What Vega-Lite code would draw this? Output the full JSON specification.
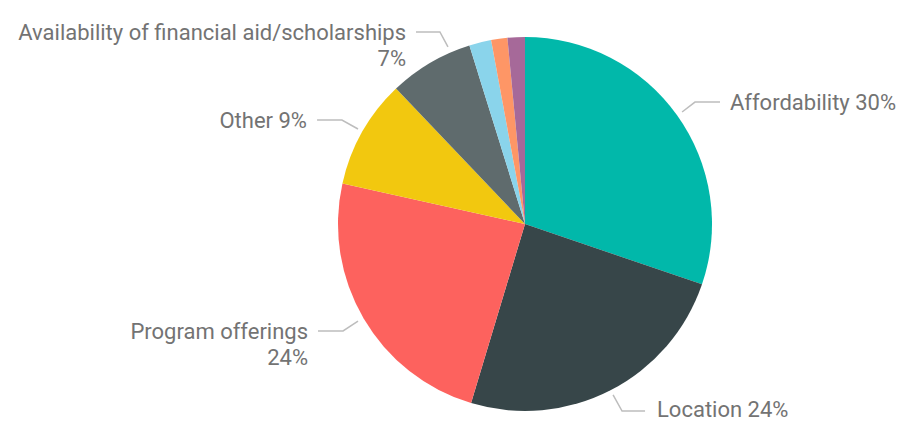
{
  "$schema": "https://vega.github.io/schema/vega-lite/v6.json",
  "width": 374,
  "height": 374,
  "autosize": "none",
  "padding": {"left": 338, "top": 37, "right": 196, "bottom": 15},
  "background": "white",
  "config": {"view": {"stroke": null}},
  "datasets": {
    "slices": [
      {"idx": 1, "category": "Affordability", "value": 30.2},
      {"idx": 2, "category": "Location", "value": 24.4},
      {"idx": 3, "category": "Program offerings", "value": 23.8},
      {"idx": 4, "category": "Other", "value": 9.4},
      {"idx": 5, "category": "Availability of financial aid/scholarships", "value": 7.3},
      {"idx": 6, "category": "Category 6", "value": 1.9},
      {"idx": 7, "category": "Category 7", "value": 1.4},
      {"idx": 8, "category": "Category 8", "value": 1.5}
    ],
    "leaders": [
      {"seg": "Affordability", "i": 1, "x": 0.840, "y": 0.599},
      {"seg": "Affordability", "i": 2, "x": 0.909, "y": 0.652},
      {"seg": "Affordability", "i": 3, "x": 1.043, "y": 0.652},
      {"seg": "Location", "i": 1, "x": 0.471, "y": -0.914},
      {"seg": "Location", "i": 2, "x": 0.519, "y": -1.0},
      {"seg": "Location", "i": 3, "x": 0.642, "y": -1.0},
      {"seg": "Program offerings", "i": 1, "x": -0.893, "y": -0.519},
      {"seg": "Program offerings", "i": 2, "x": -0.973, "y": -0.572},
      {"seg": "Program offerings", "i": 3, "x": -1.107, "y": -0.572},
      {"seg": "Other", "i": 1, "x": -0.893, "y": 0.508},
      {"seg": "Other", "i": 2, "x": -0.979, "y": 0.556},
      {"seg": "Other", "i": 3, "x": -1.112, "y": 0.556},
      {"seg": "Availability", "i": 1, "x": -0.412, "y": 0.947},
      {"seg": "Availability", "i": 2, "x": -0.455, "y": 1.027},
      {"seg": "Availability", "i": 3, "x": -0.583, "y": 1.027}
    ],
    "labels": [
      {"label": "Affordability 30%", "x": 1.096, "y": 0.647, "side": "left"},
      {"label": "Location 24%", "x": 0.706, "y": -0.995, "side": "left"},
      {"label": "Program offerings\n24%", "x": -1.160, "y": -0.578, "side": "right"},
      {"label": "Other 9%", "x": -1.166, "y": 0.551, "side": "right"},
      {"label": "Availability of financial aid/scholarships\n7%", "x": -0.636, "y": 1.021, "side": "right"}
    ]
  },
  "layer": [
    {
      "data": {"name": "slices"},
      "mark": {"type": "arc", "outerRadius": 187},
      "encoding": {
        "theta": {"field": "value", "type": "quantitative", "stack": true},
        "order": {"field": "idx", "type": "quantitative"},
        "color": {
          "field": "category",
          "type": "nominal",
          "legend": null,
          "scale": {
            "domain": ["Affordability", "Location", "Program offerings", "Other", "Availability of financial aid/scholarships", "Category 6", "Category 7", "Category 8"],
            "range": ["#01B8AA", "#374649", "#FD625E", "#F2C80F", "#5F6B6D", "#8AD4EB", "#FE9666", "#A66999"]
          }
        }
      }
    },
    {
      "data": {"name": "leaders"},
      "mark": {"type": "line", "color": "#BDBDBD", "strokeWidth": 1.5, "clip": false},
      "encoding": {
        "x": {"field": "x", "type": "quantitative", "scale": {"domain": [-1, 1], "nice": false, "zero": false}, "axis": null},
        "y": {"field": "y", "type": "quantitative", "scale": {"domain": [-1, 1], "nice": false, "zero": false}, "axis": null},
        "detail": {"field": "seg"},
        "order": {"field": "i", "type": "quantitative"}
      }
    },
    {
      "data": {"name": "labels"},
      "transform": [{"filter": "datum.side == 'left'"}],
      "mark": {"type": "text", "align": "left", "baseline": "middle", "font": "Roboto", "fontSize": 22, "color": "#737373", "lineBreak": "\n", "lineHeight": 26},
      "encoding": {
        "x": {"field": "x", "type": "quantitative"},
        "y": {"field": "y", "type": "quantitative"},
        "text": {"field": "label"}
      }
    },
    {
      "data": {"name": "labels"},
      "transform": [{"filter": "datum.side == 'right'"}],
      "mark": {"type": "text", "align": "right", "baseline": "middle", "font": "Roboto", "fontSize": 22, "color": "#737373", "lineBreak": "\n", "lineHeight": 26},
      "encoding": {
        "x": {"field": "x", "type": "quantitative"},
        "y": {"field": "y", "type": "quantitative"},
        "text": {"field": "label"}
      }
    }
  ]
}
